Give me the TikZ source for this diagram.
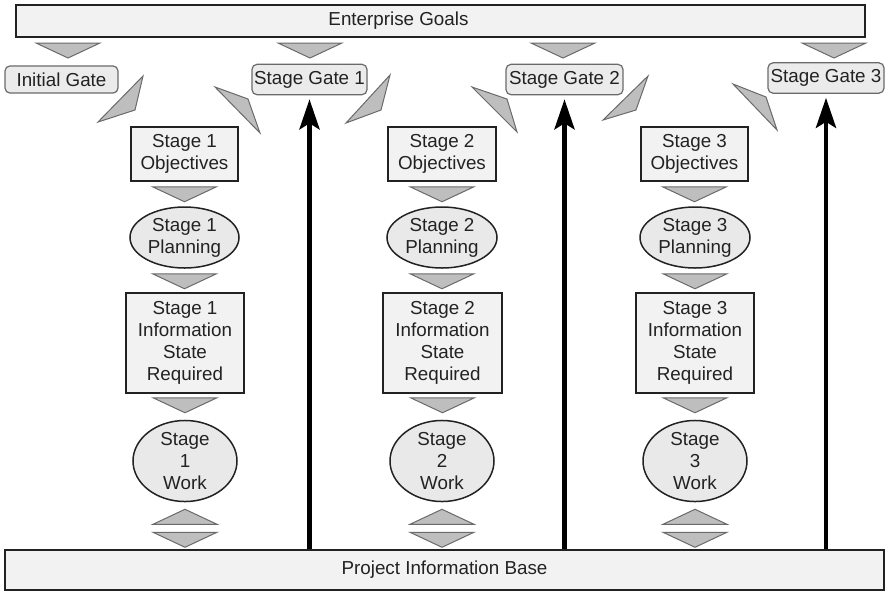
\documentclass[tikz,border=0pt]{standalone}
\usepackage{fontspec}
\setmainfont{Liberation Sans}
\usetikzlibrary{arrows.meta, calc, shapes.geometric}
\definecolor{ink}{HTML}{222222}
\definecolor{boxbg}{HTML}{F2F2F2}
\definecolor{ellbg}{HTML}{E9E9E9}
\definecolor{gatebg}{HTML}{EBEBEB}
\definecolor{tribg}{HTML}{BEBEBE}
\definecolor{triline}{HTML}{6A6A6A}
\newcommand{\stagefont}{\fontsize{9.4}{11}\selectfont}
% down / up chevrons, #1 = base centre, #2 = offset in px
\newcommand{\tridown}[2]{\draw[chevron] ($(#1)+(-32,#2)$) -- ($(#1)+(32,#2)$) -- ($(#1)+(0,#2+15)$) -- cycle;}
\newcommand{\triup}[2]{\draw[chevron] ($(#1)+(-32,#2)$) -- ($(#1)+(32,#2)$) -- ($(#1)+(0,#2-15)$) -- cycle;}
\tikzset{
  wide bar/.style={
    rectangle,
    draw=ink,
    line width=0.75pt,
    fill=boxbg,
    text=ink,
    font=\stagefont
  },
  gate/.style={
    rectangle,
    rounded corners=2.5pt,
    draw=triline,
    line width=0.6pt,
    fill=gatebg,
    text=ink,
    font=\stagefont,
    minimum height=13.5pt,
    inner xsep=1pt
  },
  task box/.style={
    rectangle,
    draw=ink,
    line width=0.75pt,
    fill=boxbg,
    text=ink,
    align=center,
    font=\stagefont,
    inner sep=0pt
  },
  task ellipse/.style={
    ellipse,
    draw=ink,
    line width=0.75pt,
    fill=ellbg,
    text=ink,
    align=center,
    font=\stagefont,
    inner sep=0pt
  },
  chevron/.style={draw=triline, fill=tribg, line width=0.5pt},
  feed/.style={
    -{Stealth[length=15pt, width=10pt, inset=3pt]},
    line width=2.4pt,
    draw=black
  }
}

\begin{document}
\begin{tikzpicture}[x=0.5pt, y=-0.5pt]
  \useasboundingbox (0,0) rectangle (885,591);

  % goals and information base
  \node[wide bar, minimum width=424.5pt, minimum height=16pt] (goals) at (440.5,21) {Enterprise Goals\kern42pt};
  \node[wide bar, minimum width=439.5pt, minimum height=20pt] (pib) at (444.5,570) {Project Information Base};

  % gates
  \node[gate, minimum width=56.5pt] (init) at (61.5,79.5) {Initial Gate};
  \node[gate, minimum width=57.5pt] (gate1) at (309.5,79.5) {Stage Gate 1};
  \node[gate, minimum width=58.5pt] (gate2) at (564.5,79.5) {Stage Gate 2};
  \node[gate, minimum width=58pt] (gate3) at (826,78) {Stage Gate 3};

  % stage 1
  \node[task box, minimum width=53.5pt, minimum height=27pt] (obj1) at (184.5,154) {Stage 1\\Objectives};
  \node[task ellipse, minimum width=54.5pt, minimum height=30.5pt] (plan1) at (184.5,237.5) {Stage 1\\Planning};
  \node[task box, minimum width=59pt, minimum height=50pt] (info1) at (185,343) {Stage 1\\Information\\State\\Required};
  \node[task ellipse, minimum width=52pt, minimum height=40pt] (work1) at (185,461) {Stage\\1\\Work};

  % stage 2
  \node[task box, minimum width=54pt, minimum height=27pt] (obj2) at (442,154) {Stage 2\\Objectives};
  \node[task ellipse, minimum width=55pt, minimum height=30.5pt] (plan2) at (442,237.5) {Stage 2\\Planning};
  \node[task box, minimum width=59.5pt, minimum height=50pt] (info2) at (442.5,343) {Stage 2\\Information\\State\\Required};
  \node[task ellipse, minimum width=52pt, minimum height=40pt] (work2) at (442,461) {Stage\\2\\Work};

  % stage 3
  \node[task box, minimum width=53.5pt, minimum height=27pt] (obj3) at (694.5,154) {Stage 3\\Objectives};
  \node[task ellipse, minimum width=55pt, minimum height=30.5pt] (plan3) at (695,237.5) {Stage 3\\Planning};
  \node[task box, minimum width=59pt, minimum height=50pt] (info3) at (695,343) {Stage 3\\Information\\State\\Required};
  \node[task ellipse, minimum width=52pt, minimum height=40pt] (work3) at (695,461) {Stage\\3\\Work};

  % chevrons under the goals
  \tridown{68,37}{6}
  \tridown{310,37}{6}
  \tridown{563,37}{6}
  \tridown{834,37}{6}

  % chevrons down each stage
  \tridown{obj1.south}{5}  \tridown{plan1.south}{5}  \tridown{info1.south}{4}
  \tridown{obj2.south}{5}  \tridown{plan2.south}{5}  \tridown{info2.south}{4}
  \tridown{obj3.south}{5}  \tridown{plan3.south}{5}  \tridown{info3.south}{4}
  \triup{work1.south}{22}  \tridown{work1.south}{30}
  \triup{work2.south}{22}  \tridown{work2.south}{30}
  \triup{work3.south}{22}  \tridown{work3.south}{30}

  % gate chevrons
  \draw[chevron] (143,76) -- (135,110) -- (98,122) -- cycle;
  \draw[chevron] (215,87) -- (248,99) -- (260,133) -- cycle;
  \draw[chevron] (390,75) -- (381,110) -- (346,123) -- cycle;
  \draw[chevron] (472,87) -- (507,99) -- (517,132) -- cycle;
  \draw[chevron] (648,76) -- (636,110) -- (603,120) -- cycle;
  \draw[chevron] (733,84) -- (766,97) -- (777,130) -- cycle;

  % information base feeds the gates
  \draw[feed] (gate1 |- pib.north) -- ([yshift=-2pt]gate1.south);
  \draw[feed] (gate2 |- pib.north) -- ([yshift=-2pt]gate2.south);
  \draw[feed] (gate3 |- pib.north) -- ([yshift=-2pt]gate3.south);
\end{tikzpicture}
\end{document}
